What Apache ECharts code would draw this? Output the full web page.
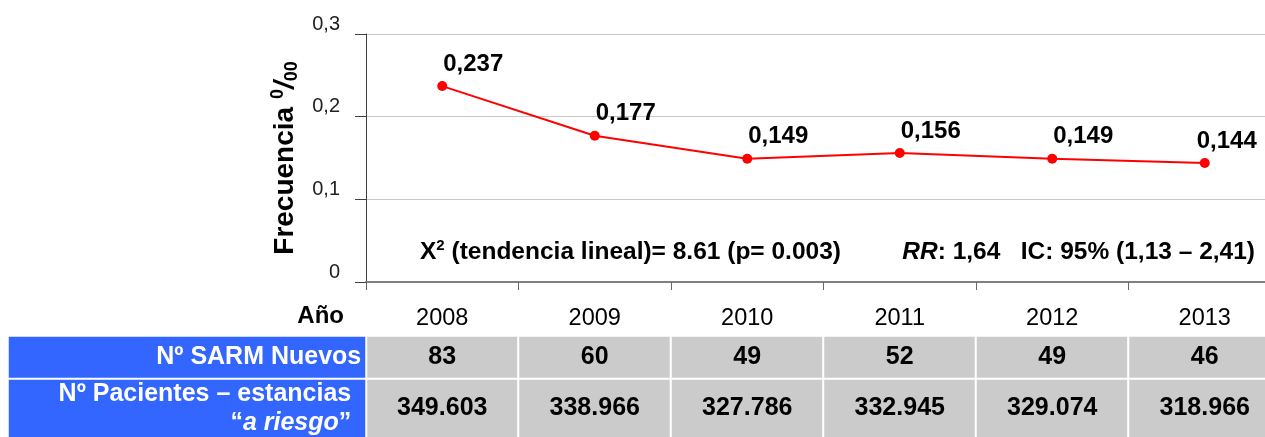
<!DOCTYPE html>
<html>
<head>
<meta charset="utf-8">
<script src="https://cdn.jsdelivr.net/npm/echarts@6/dist/echarts.min.js"></script>
<style>
html,body{margin:0;padding:0;background:#fff;}
#chart{width:1265px;height:437px;}
</style>
</head>
<body>
<div id="chart"></div>
<script>
const years = ['2008', '2009', '2010', '2011', '2012', '2013'];
const frecuencia = [0.237, 0.177, 0.149, 0.156, 0.149, 0.144];
const sarmNuevos = [83, 60, 49, 52, 49, 46];
const pacientesRiesgo = [349603, 338966, 327786, 332945, 329074, 318966];
const yMin = 0, yMax = 0.3, yInterval = 0.1;
const rowHeaders = ['Nº SARM Nuevos', 'Nº Pacientes – estancias', 'a riesgo'];
const yAxisTitle = ['Frecuencia ', '0', '/', '00'];
const xAxisTitle = 'Año';
const noteChi = ['X', '2', ' (tendencia lineal)= 8.61 (p= 0.003)'];
const noteRR = ['RR', ': 1,64   IC: 95% (1,13 – 2,41)'];

const FF = '"Liberation Sans", Arial, Helvetica, sans-serif';
const comma = (v, d) => v.toFixed(d).replace('.', ',');
const thousands = v => String(v).replace(/\B(?=(\d{3})+(?!\d))/g, '.');

const chart = echarts.init(document.getElementById('chart'), null, {renderer: 'canvas'});

const lastIdx = frecuencia.length - 1;
const lineData = frecuencia.map((v, i) => i === lastIdx ? {value: v, label: {offset: [-8, 0]}} : v);

const option = {
  animation: false,
  backgroundColor: '#ffffff',
  textStyle: {fontFamily: FF},
  grid: [
    {left: 366, width: 915, top: 34, bottom: 155, outerBoundsMode: 'none', containLabel: false},
    {left: 366, width: 915, top: 336, height: 43, outerBoundsMode: 'none', containLabel: false},
    {left: 366, width: 915, top: 379, height: 59, outerBoundsMode: 'none', containLabel: false},
    {left: 8, width: 358, top: 336, height: 43, outerBoundsMode: 'none', containLabel: false},
    {left: 8, width: 358, top: 379, height: 59, outerBoundsMode: 'none', containLabel: false}
  ],
  xAxis: [
    {
      gridIndex: 0, type: 'category', data: years, boundaryGap: true,
      axisLine: {show: true, lineStyle: {color: '#808080', width: 2}},
      axisTick: {show: true, length: 8, lineStyle: {color: '#666666', width: 1}},
      axisLabel: {color: '#000', fontSize: 23.5, margin: 25, fontFamily: FF},
      splitLine: {show: false}
    },
    {gridIndex: 1, type: 'category', data: years, show: false},
    {gridIndex: 2, type: 'category', data: years, show: false},
    {gridIndex: 3, type: 'category', data: ['h'], show: false},
    {gridIndex: 4, type: 'category', data: ['h'], show: false}
  ],
  yAxis: [
    {
      gridIndex: 0, type: 'value', min: yMin, max: yMax, interval: yInterval,
      name: yAxisTitle[0] + '{sup|' + yAxisTitle[1] + '}{sl|' + yAxisTitle[2] + '}{sub|' + yAxisTitle[3] + '}',
      nameLocation: 'middle', nameGap: 64, nameRotate: 90,
      nameTextStyle: {
        fontSize: 28, fontWeight: 'bold', color: '#000', fontFamily: FF, lineHeight: 32,
        rich: {
          sup: {fontSize: 18, fontWeight: 'bold', color: '#000', fontFamily: FF, verticalAlign: 'top'},
          sl: {fontSize: 28, fontWeight: 'bold', fontStyle: 'italic', color: '#000', fontFamily: FF},
          sub: {fontSize: 18, fontWeight: 'bold', color: '#000', fontFamily: FF, verticalAlign: 'bottom'}
        }
      },
      axisLine: {show: true, lineStyle: {color: '#404040', width: 1}},
      axisTick: {show: true, length: 11, lineStyle: {color: '#404040', width: 1}},
      axisLabel: {
        color: '#222', fontSize: 20, margin: 26, fontFamily: FF, verticalAlign: 'bottom',
        formatter: v => v === 0 ? '0' : comma(v, 1)
      },
      splitLine: {show: true, lineStyle: {color: '#c8c8c8', width: 1}}
    },
    {gridIndex: 1, type: 'category', data: ['r'], show: false},
    {gridIndex: 2, type: 'category', data: ['r'], show: false},
    {gridIndex: 3, type: 'category', data: ['r'], show: false},
    {gridIndex: 4, type: 'category', data: ['r'], show: false}
  ],
  series: [
    {
      type: 'line', xAxisIndex: 0, yAxisIndex: 0, data: lineData,
      symbol: 'circle', symbolSize: 10,
      lineStyle: {color: '#ff0000', width: 2},
      itemStyle: {color: '#ff0000'},
      label: {
        show: true, position: 'top', distance: 5, align: 'left', offset: [1, 0],
        fontSize: 24, fontWeight: 'bold', color: '#000', fontFamily: FF,
        formatter: p => comma(p.value, 3)
      },
      emphasis: {disabled: true}
    },
    {
      type: 'heatmap', xAxisIndex: 1, yAxisIndex: 1,
      data: sarmNuevos.map((v, i) => [i, 0, v]),
      itemStyle: {color: '#cbcbcb', borderColor: '#ffffff', borderWidth: 2},
      label: {show: true, fontSize: 25, fontWeight: 'bold', color: '#000', fontFamily: FF,
        formatter: p => String(p.value[2])},
      emphasis: {disabled: true}
    },
    {
      type: 'heatmap', xAxisIndex: 2, yAxisIndex: 2,
      data: pacientesRiesgo.map((v, i) => [i, 0, v]),
      itemStyle: {color: '#cbcbcb', borderColor: '#ffffff', borderWidth: 2},
      label: {show: true, fontSize: 25, fontWeight: 'bold', color: '#000', fontFamily: FF,
        formatter: p => thousands(p.value[2])},
      emphasis: {disabled: true}
    },
    {
      type: 'heatmap', xAxisIndex: 3, yAxisIndex: 3,
      data: [[0, 0, 0]],
      itemStyle: {color: '#3366ff', borderColor: '#ffffff', borderWidth: 2},
      label: {show: true, position: 'insideRight', distance: 6, fontSize: 25, fontWeight: 'bold',
        color: '#fff', fontFamily: FF, formatter: () => rowHeaders[0]},
      emphasis: {disabled: true}
    },
    {
      type: 'heatmap', xAxisIndex: 4, yAxisIndex: 4,
      data: [[0, 0, 0]],
      itemStyle: {color: '#3366ff', borderColor: '#ffffff', borderWidth: 2},
      label: {show: true, position: 'insideRight', distance: 16, align: 'right',
        color: '#fff', fontFamily: FF,
        formatter: () => '{b|' + rowHeaders[1] + '}\n{b|“}{i|' + rowHeaders[2] + '}{b|”}',
        rich: {
          b: {fontSize: 25, fontWeight: 'bold', color: '#fff', fontFamily: FF, lineHeight: 29, align: 'right'},
          i: {fontSize: 25, fontWeight: 'bold', fontStyle: 'italic', color: '#fff', fontFamily: FF, lineHeight: 29, align: 'right'}
        }
      },
      emphasis: {disabled: true}
    }
  ],
  graphic: [
    {
      type: 'text', x: 420, y: 252,
      style: {
        text: '{b|' + noteChi[0] + '}{s|' + noteChi[1] + '}{b|' + noteChi[2] + '}',
        align: 'left', verticalAlign: 'middle',
        rich: {
          b: {fontSize: 24.5, fontWeight: 'bold', fill: '#000', color: '#000', fontFamily: FF, lineHeight: 28},
          s: {fontSize: 15, fontWeight: 'bold', fill: '#000', color: '#000', fontFamily: FF, verticalAlign: 'top'}
        }
      }
    },
    {
      type: 'text', x: 1255, y: 252,
      style: {
        text: '{i|' + noteRR[0] + '}{b|' + noteRR[1] + '}',
        align: 'right', verticalAlign: 'middle',
        rich: {
          b: {fontSize: 24.5, fontWeight: 'bold', fill: '#000', color: '#000', fontFamily: FF, lineHeight: 28},
          i: {fontSize: 24.5, fontWeight: 'bold', fontStyle: 'italic', fill: '#000', color: '#000', fontFamily: FF, lineHeight: 28}
        }
      }
    },
    {
      type: 'text', x: 344, y: 316,
      style: {text: xAxisTitle, align: 'right', verticalAlign: 'middle',
        font: 'bold 24px ' + FF, fill: '#000'}
    }
  ]
};
chart.setOption(option);
</script>
</body>
</html>
